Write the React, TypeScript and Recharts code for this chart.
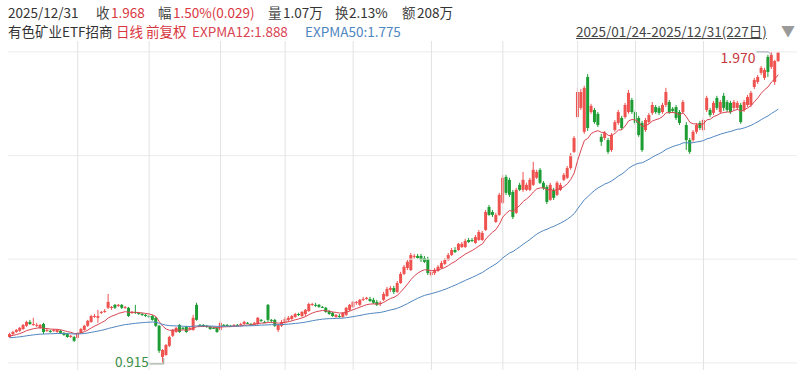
import React from "react";
import {
  ComposedChart,
  Bar,
  Line,
  XAxis,
  YAxis,
  ReferenceLine,
  ReferenceDot,
} from "recharts";

// daily candles, 2025/01/24 - 2025/12/31 (227 trading days)
const open = [
  1.003, 1.013, 1.02, 1.024, 1.03, 1.041, 1.054, 1.044, 1.041, 1.034,
  1.047, 1.024, 1.024, 1.024, 1.02, 1.024, 1.017, 1.013, 1.003, 1.003,
  1.0, 1.017, 1.027, 1.041, 1.054, 1.071, 1.068, 1.085, 1.088, 1.102,
  1.102, 1.112, 1.108, 1.112, 1.102, 1.102, 1.085, 1.088, 1.085, 1.081,
  1.078, 1.074, 1.074, 1.068, 1.041, 0.935, 0.942, 0.973, 1.007, 1.02,
  1.044, 1.034, 1.037, 1.03, 1.027, 1.112, 1.044, 1.044, 1.041, 1.037,
  1.034, 1.034, 1.027, 1.044, 1.044, 1.041, 1.041, 1.044, 1.044, 1.047,
  1.051, 1.047, 1.047, 1.047, 1.061, 1.054, 1.112, 1.061, 1.061, 1.027,
  1.041, 1.051, 1.061, 1.064, 1.071, 1.081, 1.074, 1.081, 1.091, 1.112,
  1.112, 1.112, 1.105, 1.102, 1.091, 1.085, 1.071, 1.074, 1.071, 1.078,
  1.095, 1.105, 1.119, 1.112, 1.129, 1.132, 1.132, 1.129, 1.122, 1.115,
  1.129, 1.142, 1.163, 1.169, 1.156, 1.186, 1.217, 1.237, 1.23, 1.275,
  1.278, 1.278, 1.271, 1.268, 1.213, 1.22, 1.227, 1.237, 1.251, 1.264,
  1.281, 1.298, 1.298, 1.308, 1.308, 1.332, 1.332, 1.322, 1.332, 1.332,
  1.366, 1.444, 1.427, 1.393, 1.417, 1.458, 1.546, 1.536, 1.495, 1.424,
  1.519, 1.502, 1.502, 1.502, 1.519, 1.543, 1.57, 1.526, 1.512, 1.468,
  1.502, 1.485, 1.502, 1.536, 1.543, 1.576, 1.631, 1.749, 1.78, 1.699,
  1.885, 1.766, 1.773, 1.76, 1.682, 1.678, 1.671, 1.637, 1.705, 1.729,
  1.746, 1.749, 1.766, 1.807, 1.766, 1.746, 1.729, 1.705, 1.732, 1.763,
  1.783, 1.78, 1.766, 1.79, 1.8, 1.777, 1.783, 1.766, 1.766, 1.722,
  1.671, 1.671, 1.699, 1.729, 1.705, 1.773, 1.773, 1.763, 1.814, 1.766,
  1.821, 1.8, 1.797, 1.78, 1.78, 1.79, 1.773, 1.79, 1.79, 1.851,
  1.868, 1.899, 1.882, 1.953, 1.919, 1.868, 1.939,
];
const high = [
  1.017, 1.024, 1.03, 1.037, 1.047, 1.058, 1.061, 1.068, 1.051, 1.047,
  1.051, 1.03, 1.027, 1.03, 1.03, 1.027, 1.02, 1.017, 1.01, 1.007,
  1.02, 1.034, 1.044, 1.061, 1.078, 1.081, 1.095, 1.091, 1.098, 1.149,
  1.108, 1.115, 1.115, 1.115, 1.108, 1.105, 1.091, 1.112, 1.088, 1.085,
  1.081, 1.078, 1.078, 1.071, 1.044, 0.962, 0.979, 1.007, 1.03, 1.037,
  1.047, 1.037, 1.041, 1.037, 1.078, 1.119, 1.047, 1.047, 1.044, 1.041,
  1.037, 1.037, 1.058, 1.047, 1.047, 1.044, 1.047, 1.047, 1.051, 1.058,
  1.054, 1.051, 1.054, 1.071, 1.064, 1.058, 1.115, 1.064, 1.064, 1.047,
  1.061, 1.071, 1.074, 1.078, 1.085, 1.085, 1.091, 1.098, 1.119, 1.119,
  1.119, 1.115, 1.108, 1.105, 1.095, 1.088, 1.081, 1.081, 1.088, 1.105,
  1.115, 1.125, 1.125, 1.132, 1.139, 1.139, 1.139, 1.136, 1.129, 1.125,
  1.156, 1.173, 1.176, 1.176, 1.193, 1.224, 1.247, 1.264, 1.288, 1.285,
  1.285, 1.285, 1.278, 1.275, 1.23, 1.237, 1.247, 1.261, 1.271, 1.288,
  1.305, 1.308, 1.322, 1.325, 1.336, 1.339, 1.339, 1.349, 1.366, 1.363,
  1.434, 1.451, 1.434, 1.424, 1.492, 1.553, 1.553, 1.543, 1.502, 1.509,
  1.526, 1.563, 1.526, 1.543, 1.597, 1.57, 1.576, 1.532, 1.519, 1.526,
  1.509, 1.532, 1.526, 1.559, 1.583, 1.627, 1.685, 1.848, 1.844, 1.855,
  1.895, 1.794, 1.78, 1.766, 1.692, 1.702, 1.678, 1.695, 1.739, 1.773,
  1.753, 1.797, 1.841, 1.814, 1.773, 1.753, 1.736, 1.746, 1.763, 1.8,
  1.79, 1.787, 1.797, 1.848, 1.807, 1.783, 1.79, 1.773, 1.807, 1.732,
  1.678, 1.705, 1.729, 1.736, 1.746, 1.821, 1.78, 1.804, 1.821, 1.807,
  1.831, 1.807, 1.804, 1.807, 1.804, 1.797, 1.807, 1.824, 1.838, 1.882,
  1.892, 1.922, 1.916, 1.96, 1.97, 1.943, 1.969,
];
const low = [
  1.0, 1.01, 1.017, 1.02, 1.027, 1.037, 1.044, 1.041, 1.037, 1.03,
  1.013, 1.02, 1.017, 1.02, 1.017, 1.013, 1.007, 1.0, 1.0, 0.986,
  0.996, 1.013, 1.024, 1.037, 1.051, 1.068, 1.051, 1.081, 1.085, 1.098,
  1.095, 1.098, 1.105, 1.098, 1.098, 1.071, 1.081, 1.081, 1.078, 1.074,
  1.071, 1.068, 1.058, 1.037, 0.949, 0.915, 0.939, 0.969, 1.003, 1.017,
  1.017, 1.027, 1.017, 1.027, 1.024, 1.058, 1.041, 1.037, 1.034, 1.027,
  1.03, 1.017, 1.024, 1.041, 1.037, 1.037, 1.037, 1.041, 1.041, 1.044,
  1.047, 1.044, 1.044, 1.044, 1.054, 1.051, 1.054, 1.051, 1.037, 1.02,
  1.037, 1.047, 1.054, 1.061, 1.068, 1.074, 1.071, 1.074, 1.088, 1.108,
  1.105, 1.102, 1.102, 1.085, 1.078, 1.071, 1.068, 1.068, 1.068, 1.074,
  1.091, 1.102, 1.112, 1.108, 1.125, 1.129, 1.122, 1.115, 1.108, 1.108,
  1.125, 1.139, 1.156, 1.149, 1.152, 1.183, 1.213, 1.23, 1.227, 1.268,
  1.268, 1.258, 1.254, 1.213, 1.207, 1.213, 1.224, 1.234, 1.247, 1.261,
  1.278, 1.288, 1.295, 1.305, 1.305, 1.322, 1.325, 1.319, 1.329, 1.329,
  1.363, 1.414, 1.41, 1.39, 1.414, 1.454, 1.485, 1.478, 1.403, 1.42,
  1.498, 1.495, 1.498, 1.498, 1.515, 1.539, 1.522, 1.502, 1.454, 1.465,
  1.468, 1.481, 1.498, 1.532, 1.539, 1.57, 1.627, 1.746, 1.773, 1.692,
  1.702, 1.76, 1.726, 1.715, 1.651, 1.671, 1.624, 1.631, 1.699, 1.722,
  1.705, 1.743, 1.76, 1.76, 1.722, 1.682, 1.631, 1.699, 1.726, 1.756,
  1.76, 1.756, 1.76, 1.783, 1.76, 1.763, 1.739, 1.722, 1.76, 1.637,
  1.624, 1.665, 1.692, 1.705, 1.699, 1.766, 1.749, 1.756, 1.773, 1.76,
  1.77, 1.766, 1.76, 1.773, 1.773, 1.726, 1.766, 1.783, 1.783, 1.844,
  1.861, 1.892, 1.875, 1.885, 1.912, 1.858, 1.936,
];
const close = [
  1.013, 1.02, 1.027, 1.034, 1.044, 1.054, 1.047, 1.047, 1.044, 1.044,
  1.02, 1.027, 1.02, 1.027, 1.027, 1.017, 1.01, 1.003, 1.007, 0.99,
  1.017, 1.03, 1.041, 1.058, 1.074, 1.074, 1.074, 1.088, 1.091, 1.122,
  1.105, 1.102, 1.112, 1.102, 1.105, 1.074, 1.088, 1.085, 1.081, 1.078,
  1.074, 1.071, 1.061, 1.041, 0.956, 0.959, 0.976, 1.003, 1.027, 1.034,
  1.02, 1.032, 1.02, 1.034, 1.068, 1.061, 1.042, 1.041, 1.037, 1.03,
  1.032, 1.02, 1.051, 1.042, 1.041, 1.039, 1.044, 1.042, 1.047, 1.054,
  1.049, 1.046, 1.051, 1.068, 1.058, 1.052, 1.061, 1.058, 1.041, 1.044,
  1.054, 1.064, 1.068, 1.074, 1.081, 1.08, 1.088, 1.095, 1.115, 1.115,
  1.11, 1.105, 1.103, 1.088, 1.081, 1.074, 1.078, 1.073, 1.085, 1.102,
  1.112, 1.122, 1.122, 1.129, 1.132, 1.136, 1.125, 1.119, 1.112, 1.119,
  1.149, 1.166, 1.169, 1.156, 1.186, 1.217, 1.241, 1.258, 1.281, 1.278,
  1.271, 1.264, 1.258, 1.22, 1.224, 1.23, 1.241, 1.254, 1.264, 1.281,
  1.298, 1.291, 1.319, 1.319, 1.329, 1.325, 1.329, 1.342, 1.359, 1.356,
  1.427, 1.417, 1.417, 1.417, 1.485, 1.543, 1.492, 1.485, 1.41, 1.502,
  1.502, 1.536, 1.519, 1.536, 1.57, 1.563, 1.526, 1.509, 1.461, 1.519,
  1.475, 1.526, 1.519, 1.553, 1.576, 1.621, 1.678, 1.834, 1.834, 1.848,
  1.712, 1.787, 1.732, 1.722, 1.665, 1.695, 1.631, 1.688, 1.732, 1.766,
  1.712, 1.79, 1.831, 1.766, 1.729, 1.688, 1.637, 1.739, 1.756, 1.79,
  1.766, 1.763, 1.79, 1.834, 1.766, 1.77, 1.746, 1.729, 1.8, 1.671,
  1.631, 1.699, 1.722, 1.712, 1.739, 1.814, 1.756, 1.797, 1.78, 1.8,
  1.78, 1.773, 1.766, 1.8, 1.797, 1.732, 1.8, 1.817, 1.831, 1.875,
  1.885, 1.916, 1.909, 1.902, 1.96, 1.939, 1.968,
];

// first trading day of Mar ... Dec (vertical grid)
const monthStarts = [20, 41, 62, 81, 101, 124, 145, 167, 184, 204];
const priceGrid = [0.915, 1.267, 1.618, 1.97];
const priceDomain = [0.891, 2.007];
// EXPMA values carried in from before 2025/01/24
const ema12Start = 1.005;
const ema50Start = 1.0;

const UP = "#ef5350";
const DOWN = "#1f9d35";
const EMA12_COLOR = "#d94452";
const EMA50_COLOR = "#4f86c0";

function expma(values: number[], n: number, start: number) {
  let prev = start;
  return values.map((v) => {
    prev = (2 * v + (n - 1) * prev) / (n + 1);
    return prev;
  });
}

const ema12 = expma(close, 12, ema12Start);
const ema50 = expma(close, 50, ema50Start);

const chartData = close.map((c, i) => ({
  i,
  open: open[i],
  high: high[i],
  low: low[i],
  close: c,
  range: [low[i], high[i]],
  ema12: ema12[i],
  ema50: ema50[i],
}));

function Candle(props: any) {
  const { x, width, payload } = props;
  let { y, height } = props;
  if (height < 0) {
    y = y + height;
    height = -height;
  }
  const { open: o, close: c, high: h, low: l } = payload;
  const color = c >= o ? UP : DOWN;
  const ratio = h > l ? height / (h - l) : 0;
  const bodyTop = y + (h - Math.max(o, c)) * ratio;
  const bodyH = Math.max(Math.abs(o - c) * ratio, 1);
  const cx = x + width / 2;
  return (
    <g>
      <line x1={cx} x2={cx} y1={y} y2={y + height} stroke={color} strokeWidth={1} />
      <rect x={x} y={bodyTop} width={width} height={bodyH} fill={color} />
    </g>
  );
}

const font = "'Noto Sans CJK SC', 'Noto Sans', sans-serif";

function MaxMark(props: any) {
  const { cx, cy } = props;
  return (
    <g>
      <polyline
        points={`${cx - 15},${cy} ${cx - 3},${cy} ${cx},${cy + 3}`}
        fill="none"
        stroke="#9aa6b2"
        strokeWidth={1}
      />
      <text x={cx - 16} y={cy + 11} textAnchor="end" fontSize={14} fill="#c8373c" fontFamily={font}>
        1.970
      </text>
    </g>
  );
}

function MinMark(props: any) {
  const { cx, cy } = props;
  return (
    <g>
      <polyline
        points={`${cx - 13},${cy + 1} ${cx + 1},${cy + 1} ${cx + 1},${cy - 5}`}
        fill="none"
        stroke="#8fa08f"
        strokeWidth={1}
      />
      <text x={cx - 14} y={cy + 4} textAnchor="end" fontSize={13.5} fill="#3a8e44" fontFamily={font}>
        0.915
      </text>
    </g>
  );
}

function T({ left, top, color, children, style }: any) {
  return (
    <span
      style={{
        position: "absolute",
        left,
        top,
        color,
        fontSize: 13.5,
        lineHeight: "18px",
        whiteSpace: "nowrap",
        ...style,
      }}
    >
      {children}
    </span>
  );
}

export default function App() {
  return (
    <div
      style={{
        position: "absolute",
        left: 0,
        top: 0,
        width: 797,
        height: 370,
        background: "#fff",
        fontFamily: font,
        overflow: "hidden",
      }}
    >
      <T left={8} top={3} color="#333">2025/12/31</T>
      <T left={96} top={3} color="#444">收</T>
      <T left={111} top={3} color="#d9363e">1.968</T>
      <T left={158} top={3} color="#444">幅</T>
      <T left={173} top={3} color="#d9363e">1.50%(0.029)</T>
      <T left={268} top={3} color="#444">量</T>
      <T left={283} top={3} color="#333">1.07万</T>
      <T left={335} top={3} color="#444">换</T>
      <T left={349} top={3} color="#333">2.13%</T>
      <T left={402} top={3} color="#444">额</T>
      <T left={417} top={3} color="#333">208万</T>

      <T left={8} top={22} color="#333">有色矿业ETF招商</T>
      <T left={116} top={22} color="#d9363e">日线</T>
      <T left={146} top={22} color="#d9363e">前复权</T>
      <T left={192} top={22} color={EMA12_COLOR}>EXPMA12:1.888</T>
      <T left={305} top={22} color={EMA50_COLOR}>EXPMA50:1.775</T>
      <T left={576} top={22} color="#444" style={{ textDecoration: "underline" }}>
        2025/01/24-2025/12/31(227日)
      </T>
      <T left={781} top={21} color="#9a9a9a" style={{ fontSize: 14 }}>▼</T>

      <div style={{ position: "absolute", left: 0, top: 0 }}>
        <ComposedChart
          width={797}
          height={370}
          data={chartData}
          margin={{ top: 41, right: 0, bottom: 0, left: 8 }}
        >
          <XAxis dataKey="i" type="category" hide padding={{ left: 0, right: 17 }} />
          <YAxis type="number" hide domain={priceDomain} allowDataOverflow />
          {priceGrid.map((p) => (
            <ReferenceLine key={"h" + p} y={p} stroke="#ebebeb" strokeWidth={1} />
          ))}
          {monthStarts.map((m) => (
            <ReferenceLine key={"v" + m} x={m} stroke="#e2e2e2" strokeWidth={1} />
          ))}
          <Bar
            dataKey="range"
            barSize={3}
            shape={<Candle />}
            isAnimationActive={false}
          />
          <Line
            type="linear"
            dataKey="ema12"
            stroke={EMA12_COLOR}
            strokeWidth={1}
            dot={false}
            activeDot={false}
            isAnimationActive={false}
          />
          <Line
            type="linear"
            dataKey="ema50"
            stroke={EMA50_COLOR}
            strokeWidth={1}
            dot={false}
            activeDot={false}
            isAnimationActive={false}
          />
          <ReferenceDot x={224} y={1.97} r={0} shape={<MaxMark />} />
          <ReferenceDot x={45} y={0.915} r={0} shape={<MinMark />} />
        </ComposedChart>
      </div>
    </div>
  );
}
